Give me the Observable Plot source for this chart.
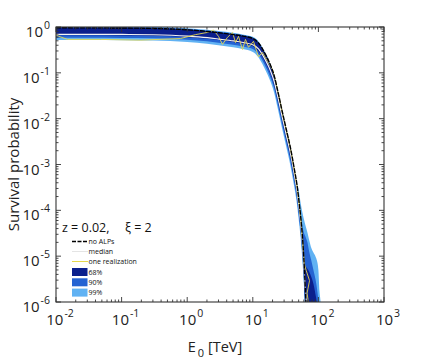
<!DOCTYPE html>
<html><head><meta charset="utf-8">
<script src="https://cdn.jsdelivr.net/npm/d3@7"></script>
<script src="https://cdn.jsdelivr.net/npm/@observablehq/plot@0.6"></script>
<style>body{margin:0;background:#fff}</style>
</head><body><div id="chart"></div>
<script>
// ---- data ----
const energyTeV = [0.01,0.03,0.1,0.3,1,2,3,5,7,10,12,14,16,18,21,24,28,32,37,42,47,50,53,57,60,64,68,72,78,84,90,95,100,104,108,112,118];
const noALPs   = [0.985,0.982,0.975,0.955,0.89,0.82,0.77,0.70,0.65,0.57,0.46,0.33,0.23,0.16,0.085,0.037,0.0135,0.0058,0.0023,8.5e-4,3.2e-4,1.5e-4,7e-5,2e-5,5.6e-6,8e-7,1.2e-7,1e-8,1e-8,1e-8,1e-8,1e-8,1e-8,1e-8,1e-8,1e-8,1e-8];
const medianP  = [0.71,0.71,0.705,0.695,0.65,0.60,0.56,0.51,0.47,0.415,0.34,0.245,0.172,0.12,0.064,0.028,0.0102,0.0044,0.00175,6.5e-4,2.4e-4,1.14e-4,5.3e-5,1.5e-5,4.3e-6,1.2e-6,5e-7,1e-7,1e-8,1e-8,1e-8,1e-8,1e-8,1e-8,1e-8,1e-8,1e-8];
const band68Lo = [0.66,0.66,0.655,0.645,0.60,0.555,0.52,0.47,0.43,0.38,0.305,0.22,0.152,0.106,0.056,0.0245,0.0089,0.0038,0.0015,5.6e-4,2.1e-4,9.9e-5,4.6e-5,1.3e-5,3.7e-6,5e-7,1e-7,1e-7,1e-7,1e-7,1e-7,1e-7,1e-7,1e-7,1e-7,1e-7,1e-7];
const band68Hi = [0.965,0.965,0.96,0.945,0.88,0.81,0.76,0.69,0.64,0.56,0.45,0.323,0.225,0.157,0.083,0.0363,0.0132,0.0057,0.00225,8.3e-4,3.15e-4,1.5e-4,7e-5,2.1e-5,8e-6,6e-6,5.3e-6,4.6e-6,3.5e-6,2.5e-6,1.5e-6,9e-7,3e-7,1e-7,1e-7,1e-7,1e-7];
const band90Lo = [0.58,0.58,0.575,0.565,0.53,0.49,0.455,0.41,0.375,0.33,0.26,0.185,0.128,0.088,0.047,0.0203,0.0074,0.0032,0.00126,4.7e-4,1.75e-4,8.2e-5,3.8e-5,1.05e-5,3e-6,4e-7,1e-7,1e-7,1e-7,1e-7,1e-7,1e-7,1e-7,1e-7,1e-7,1e-7,1e-7];
const band90Hi = [0.99,0.99,0.985,0.97,0.91,0.84,0.79,0.72,0.665,0.585,0.475,0.34,0.237,0.165,0.0875,0.038,0.0139,0.006,0.00237,8.8e-4,3.4e-4,1.7e-4,9e-5,4.5e-5,3.3e-5,2.6e-5,2e-5,1.3e-5,8e-6,5e-6,3.2e-6,2e-6,1e-6,3e-7,1e-7,1e-7,1e-7];
const band99Lo = [0.52,0.52,0.515,0.505,0.47,0.43,0.40,0.36,0.33,0.285,0.225,0.155,0.105,0.072,0.038,0.0166,0.006,0.0026,0.00103,3.8e-4,1.4e-4,6.5e-5,3e-5,8e-6,2.5e-6,3e-7,1e-7,1e-7,1e-7,1e-7,1e-7,1e-7,1e-7,1e-7,1e-7,1e-7,1e-7];
const band99Hi = [1.0,1.0,1.0,0.995,0.94,0.87,0.82,0.75,0.69,0.61,0.50,0.357,0.25,0.173,0.092,0.04,0.0146,0.0063,0.0025,9.3e-4,3.8e-4,2.8e-4,1.6e-4,9e-5,6.5e-5,4.5e-5,3.3e-5,2.3e-5,1.5e-5,1.2e-5,1e-5,8e-6,5e-6,1.7e-6,1e-6,3e-7,1e-7];
const realizationE = [0.01,0.0147,0.047,0.19,0.78,1.32,2.0,2.47,2.95,3.39,4.04,4.82,5.36,5.95,6.84,7.6,8.45,10.07,12.0,13.8,16.5,19.6,22,24.2,28,32,37,42,47,50,53,57,60,64,72,66,71,69];
const realizationP = [0.67,0.55,0.55,0.53,0.575,0.70,0.78,0.88,0.64,0.43,0.61,0.78,0.47,0.64,0.33,0.55,0.37,0.50,0.23,0.285,0.18,0.121,0.065,0.035,0.0125,0.0055,0.0022,8e-4,3e-4,1.4e-4,6.5e-5,1.9e-5,7e-6,5e-6,3e-6,1.6e-6,8e-7,3e-7];
const xTickExp = [-2,-1,0,1,2,3];
const yTickExp = [-6,-5,-4,-3,-2,-1,0];
const legendTitle = "z = 0.02,";
const legendTitle2 = "\u03BE = 2";
const lineLegend = ["no ALPs","median","one realization"];
const bandLegend = ["68%","90%","99%"];
const xLabel = ["E","0"," [TeV]"];
const yLabel = "Survival probability";

// ---- styling ----
const c68 = "#0b1f8c", c90 = "#2563d2", c99 = "#61b2f3";
const cMed = "#f3f3f3", cReal = "#e6d84c";
const W = 424, H = 361, mL = 56, mR = 40, mT = 27, mB = 59;
const font = "'Open Sans', sans-serif";

const rows = energyTeV.map((e, i) => ({
  e, p0: noALPs[i], med: medianP[i],
  lo68: band68Lo[i], hi68: band68Hi[i],
  lo90: band90Lo[i], hi90: band90Hi[i],
  lo99: band99Lo[i], hi99: band99Hi[i]
}));
const real = realizationE.map((e, i) => ({e, p: realizationP[i]}));

const plot = Plot.plot({
  width: W, height: H,
  marginLeft: mL, marginRight: mR, marginTop: mT, marginBottom: mB,
  x: {type: "log", domain: [1e-2, 1e3], axis: null},
  y: {type: "log", domain: [1e-6, 1], axis: null},
  style: {fontFamily: font, background: "#fff"},
  marks: [
    Plot.areaY(rows, {x: "e", y1: "lo99", y2: "hi99", fill: c99, curve: "monotone-x", clip: true}),
    Plot.areaY(rows, {x: "e", y1: "lo90", y2: "hi90", fill: c90, curve: "monotone-x", clip: true}),
    Plot.areaY(rows, {x: "e", y1: "lo68", y2: "hi68", fill: c68, curve: "monotone-x", clip: true}),
    Plot.line(rows, {x: "e", y: "med", stroke: cMed, strokeWidth: 1.2, curve: "monotone-x", clip: true}),
    Plot.line(real, {x: "e", y: "p", stroke: cReal, strokeWidth: 0.9, clip: true}),
    Plot.line(rows, {x: "e", y: "p0", stroke: "#000", strokeWidth: 1.4, strokeDasharray: "4,2", curve: "monotone-x", clip: true})
  ]
});
document.getElementById("chart").appendChild(plot);

const xs = plot.scale("x"), ys = plot.scale("y");
const fx = v => xs.apply(v), fy = v => ys.apply(v);
const svg = d3.select(plot);
const ax = svg.append("g").attr("stroke", "#333").attr("stroke-width", 0.9);
const x0 = fx(1e-2), x1 = fx(1e3), y0 = fy(1e-6), y1 = fy(1);

// ticks
const xMajor = xTickExp.map(e => 10 ** e);
const xMinor = [];
for (let d = -2; d < 3; d++) for (let k = 2; k <= 9; k++) xMinor.push(k * 10 ** d);
const yMajor = yTickExp.map(e => 10 ** e);
const yMinor = [];
for (let d = -6; d < 0; d++) for (let k = 2; k <= 9; k++) yMinor.push(k * 10 ** d);
function xt(v, len) {
  ax.append("line").attr("x1", fx(v)).attr("x2", fx(v)).attr("y1", y0).attr("y2", y0 - len);
  ax.append("line").attr("x1", fx(v)).attr("x2", fx(v)).attr("y1", y1).attr("y2", y1 + len);
}
function yt(v, len) {
  ax.append("line").attr("y1", fy(v)).attr("y2", fy(v)).attr("x1", x0).attr("x2", x0 + len);
  ax.append("line").attr("y1", fy(v)).attr("y2", fy(v)).attr("x1", x1).attr("x2", x1 - len);
}
xMajor.forEach(v => xt(v, 5)); xMinor.forEach(v => xt(v, 2.5));
yMajor.forEach(v => yt(v, 5)); yMinor.forEach(v => yt(v, 2.5));
ax.append("rect").attr("x", x0).attr("y", y1).attr("width", x1 - x0).attr("height", y0 - y1)
  .attr("fill", "none").attr("stroke", "#333").attr("stroke-width", 1.1);

// tick labels
const tl = svg.append("g").attr("font-family", font).attr("fill", "#222");
xTickExp.forEach(e => {
  const t = tl.append("text").attr("x", fx(10 ** e) + 4).attr("y", y0 + 23).attr("text-anchor", "middle");
  t.append("tspan").attr("font-size", 15).text("10");
  t.append("tspan").attr("font-size", 10.5).attr("dx", 1).attr("dy", -8).text(String(e));
});
yTickExp.forEach(e => {
  const t = tl.append("text").attr("x", x0 - 6).attr("y", fy(10 ** e) + 10).attr("text-anchor", "end");
  t.append("tspan").attr("font-size", 15).text("10");
  t.append("tspan").attr("font-size", 10.5).attr("dx", 1).attr("dy", -8).text(String(e));
});

// axis titles
const xl = tl.append("text").attr("x", 215).attr("y", 352).attr("text-anchor", "middle").attr("font-size", 14.5);
xl.append("tspan").text(xLabel[0]);
xl.append("tspan").attr("font-size", 11).attr("dx", 2).attr("dy", 4.5).text(xLabel[1]);
xl.append("tspan").attr("dy", -4.5).text(xLabel[2]);
tl.append("text").attr("transform", `translate(19,${(y0 + y1) / 2}) rotate(-90)`)
  .attr("text-anchor", "middle").attr("font-size", 15).text(yLabel);

// legend
const lg = svg.append("g").attr("font-family", font).attr("fill", "#111").attr("text-anchor", "start");
lg.append("text").attr("x", 62).attr("y", 232).attr("font-size", 12.5).text(legendTitle);
lg.append("text").attr("x", 125).attr("y", 232).attr("font-size", 12.5).text(legendTitle2);
const lineStyles = [
  {stroke: "#000", dash: "4,1.5", w: 1.4},
  {stroke: "#e4e4e4", dash: null, w: 1},
  {stroke: cReal, dash: null, w: 1}
];
lineLegend.forEach((name, i) => {
  const yy = 241.5 + i * 10;
  const l = lg.append("line").attr("x1", 72).attr("x2", 88).attr("y1", yy).attr("y2", yy)
    .attr("stroke", lineStyles[i].stroke).attr("stroke-width", lineStyles[i].w);
  if (lineStyles[i].dash) l.attr("stroke-dasharray", lineStyles[i].dash);
  lg.append("text").attr("x", 88.5).attr("y", yy + 2.3).attr("font-size", 7).text(name);
});
const bandColors = [c68, c90, c99];
bandLegend.forEach((name, i) => {
  const yy = 268 + i * 10.3;
  lg.append("rect").attr("x", 72).attr("y", yy).attr("width", 15.5).attr("height", 8).attr("fill", bandColors[i]);
  lg.append("text").attr("x", 88.5).attr("y", yy + 6.8).attr("font-size", 7).text(name);
});
</script>
</body></html>
